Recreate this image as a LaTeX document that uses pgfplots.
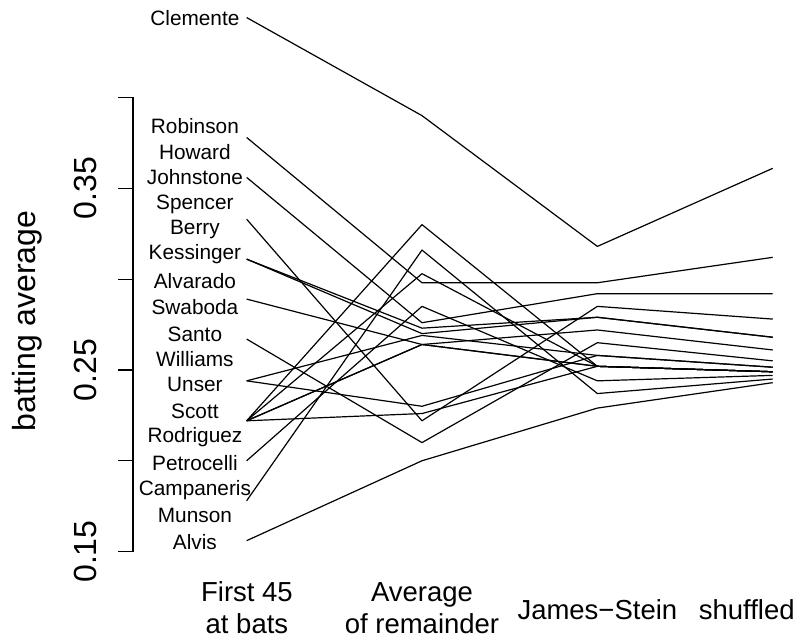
\documentclass[border=0pt]{standalone}
\usepackage{pgfplots}
\pgfplotsset{compat=1.18}
\usepackage{fontspec}
\setmainfont{Liberation Sans}
\begin{document}
\begin{tikzpicture}
\begin{axis}[
    x=175.4pt, y=1816.8pt,
    xmin=0.352, xmax=4, ymin=0.15, ymax=0.40,
    clip=false,
    axis x line=none, axis y line*=left,
    xtick=\empty,
    ytick={0.15,0.20,0.25,0.30,0.35,0.40},
    yticklabels={},
    tick align=outside, major tick length=15pt,
    tick style={black, line width=1.2pt},
    axis line style={black, line width=1.2pt},
    cycle list={{black, solid}},
    no marks,
    every axis plot post/.append style={line width=1.2pt, line join=round},
  ]
  \tikzset{plab/.style={anchor=base, font=\fontsize{20.8}{25}\selectfont},
           xlab/.style={anchor=base, font=\fontsize{27.5}{32}\selectfont},
           big/.style={anchor=base, rotate=90, font=\fontsize{32}{38}\selectfont}}

% first 45 / remainder / James-Stein / shuffled
\addplot coordinates {(1,0.444)(2,0.390)(3,0.318)(4,0.361)}; % Clemente
\addplot coordinates {(1,0.378)(2,0.298)(3,0.298)(4,0.312)}; % Robinson
\addplot coordinates {(1,0.356)(2,0.276)(3,0.292)(4,0.292)}; % Howard
\addplot coordinates {(1,0.333)(2,0.222)(3,0.285)(4,0.278)}; % Johnstone
\addplot coordinates {(1,0.311)(2,0.273)(3,0.279)(4,0.268)}; % Berry
\addplot coordinates {(1,0.311)(2,0.270)(3,0.279)(4,0.268)}; % Spencer
\addplot coordinates {(1,0.289)(2,0.264)(3,0.272)(4,0.261)}; % Kessinger
\addplot coordinates {(1,0.267)(2,0.210)(3,0.265)(4,0.255)}; % Alvarado
\addplot coordinates {(1,0.244)(2,0.269)(3,0.258)(4,0.2515)}; % Santo
\addplot coordinates {(1,0.244)(2,0.230)(3,0.258)(4,0.2515)}; % Swaboda
\addplot coordinates {(1,0.222)(2,0.264)(3,0.252)(4,0.249)}; % Unser
\addplot coordinates {(1,0.222)(2,0.330)(3,0.252)(4,0.249)}; % Williams
\addplot coordinates {(1,0.222)(2,0.303)(3,0.252)(4,0.249)}; % Scott
\addplot coordinates {(1,0.222)(2,0.264)(3,0.252)(4,0.249)}; % Petrocelli
\addplot coordinates {(1,0.222)(2,0.226)(3,0.252)(4,0.249)}; % Rodriguez
\addplot coordinates {(1,0.200)(2,0.285)(3,0.244)(4,0.247)}; % Campaneris
\addplot coordinates {(1,0.178)(2,0.316)(3,0.237)(4,0.245)}; % Munson
\addplot coordinates {(1,0.156)(2,0.200)(3,0.229)(4,0.243)}; % Alvis

% player names
\node[plab] at (axis cs:0.705,0.4397) {Clemente};
\node[plab] at (axis cs:0.705,0.3800) {Robinson};
\node[plab] at (axis cs:0.705,0.3659) {Howard};
\node[plab] at (axis cs:0.705,0.3519) {Johnstone};
\node[plab] at (axis cs:0.705,0.3381) {Spencer};
\node[plab] at (axis cs:0.705,0.3244) {Berry};
\node[plab] at (axis cs:0.705,0.3106) {Kessinger};
\node[plab] at (axis cs:0.705,0.2949) {Alvarado};
\node[plab] at (axis cs:0.705,0.2806) {Swaboda};
\node[plab] at (axis cs:0.705,0.2657) {Santo};
\node[plab] at (axis cs:0.705,0.2520) {Williams};
\node[plab] at (axis cs:0.705,0.2380) {Unser};
\node[plab] at (axis cs:0.705,0.2231) {Scott};
\node[plab] at (axis cs:0.705,0.2099) {Rodriguez};
\node[plab] at (axis cs:0.705,0.1948) {Petrocelli};
\node[plab] at (axis cs:0.705,0.1807) {Campaneris};
\node[plab] at (axis cs:0.705,0.1661) {Munson};
\node[plab] at (axis cs:0.705,0.1514) {Alvis};

% column labels
\node[xlab] at (axis cs:1.0017,0.12248) {First 45};
\node[xlab] at (axis cs:1.0017,0.10509) {at bats};
\node[xlab] at (axis cs:2.0,0.12248) {Average};
\node[xlab] at (axis cs:2.0,0.10509) {of remainder};
\node[xlab] at (axis cs:3.0,0.11241) {James\textminus Stein};
\node[xlab] at (axis cs:3.852,0.11241) {shuffled};

% tick labels and axis title
\node[big] at (axis cs:0.1465,0.15) {0.15};
\node[big] at (axis cs:0.1465,0.25) {0.25};
\node[big] at (axis cs:0.1465,0.35) {0.35};
\node[big] at (axis cs:-0.2052,0.2770) {batting average};

\path (axis cs:-0.4065,0.10195) rectangle (axis cs:4.1431,0.45367);
\end{axis}
\end{tikzpicture}
\end{document}
